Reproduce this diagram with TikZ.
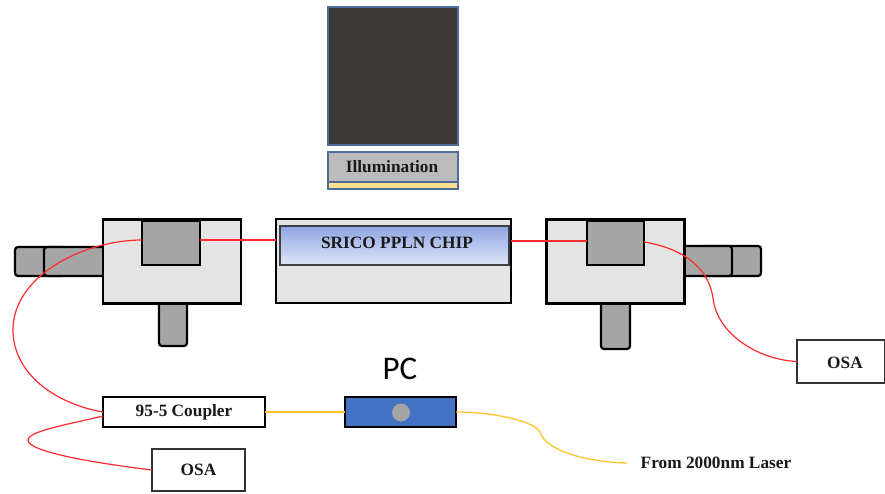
\documentclass[tikz,border=0pt]{standalone}
\usepackage{fontspec}
\setmainfont{Liberation Serif}
\newfontfamily\pcfont{Carlito}
\usetikzlibrary{calc}
\definecolor{stagegray}{HTML}{E4E4E4}
\definecolor{knobgray}{HTML}{A5A5A5}
\definecolor{darkbox}{HTML}{3B3A39}
\definecolor{framebl}{HTML}{4F6D9B}
\definecolor{illum}{HTML}{BBBBBB}
\definecolor{illumy}{HTML}{FFE08F}
\definecolor{pcblue}{HTML}{4472C4}
\definecolor{fibrered}{HTML}{FF2B2B}
\definecolor{fibreyel}{HTML}{FFC42E}
\definecolor{chiptop}{HTML}{8FA5E3}
\definecolor{chipbot}{HTML}{DFE5F8}
\tikzset{
  x=1pt,y=-1pt,
  every node/.style={inner sep=0pt,outer sep=0pt},
  box/.style={draw=black,line width=2.2pt,rectangle},
  stage/.style={box,fill=stagegray,minimum width=138pt,minimum height=84pt},
  holder/.style={box,fill=knobgray},
  knob/.style={draw=black,line width=2.2pt,fill=knobgray,rounded corners=3pt,rectangle},
  bluebox/.style={draw=framebl,line width=1.4pt,rectangle},
  instr/.style={draw=black!80,line width=1.8pt,fill=white,rectangle},
  lab/.style={font=\bfseries\fontsize{17.3}{19}\selectfont,text=black!90},
  redfibre/.style={draw=fibrered,line width=1.2pt},
  yelfibre/.style={draw=fibreyel,line width=1.3pt}
}
\begin{document}
\begin{tikzpicture}
\useasboundingbox (0,0) rectangle (885,493);
% illumination
\node[bluebox,fill=darkbox,minimum width=130pt,minimum height=138pt] (lamp) at (393,76) {};
\node[bluebox,fill=illumy,minimum width=130pt,minimum height=37pt] (illbase) at (393,170.5) {};
\node[bluebox,fill=illum,minimum width=130pt,minimum height=30pt] (ill) at (393,167) {};
\node[lab] (illlab) at (392,167) {Illumination};
% left stage knobs
\node[knob,minimum width=50pt,minimum height=29pt] (lk1) at (40,261.5) {};
\node[knob,minimum width=74pt,minimum height=29pt] (lk2) at (81,261.5) {};
\node[knob,minimum width=28pt,minimum height=50pt] (lk3) at (173,321) {};
% right stage knobs
\node[knob,minimum width=60pt,minimum height=30pt] (rk1) at (731,261) {};
\node[knob,minimum width=60pt,minimum height=30pt] (rk2) at (702,261) {};
\node[knob,minimum width=29pt,minimum height=53pt] (rk3) at (615.5,322.5) {};
% stages
\node[stage] (ls) at (172,261.5) {};
\node[holder,minimum width=58pt,minimum height=44pt] (lh) at (171,243) {};
\node[stage] (rs) at (615.5,261.5) {};
\node[holder,minimum width=57pt,minimum height=44pt] (rh) at (615.5,243) {};
% chip
\node[box,fill=stagegray,minimum width=235pt,minimum height=84pt] (chipbase) at (393.5,261) {};
\node[draw=black!75,line width=1.2pt,top color=chiptop,bottom color=chipbot,minimum width=229pt,minimum height=39pt,rectangle] (chip) at (394.5,245.5) {};
\node[lab] (chiplab) at (397,243) {SRICO PPLN CHIP};
% instruments
\node[instr,minimum width=88pt,minimum height=43pt] (osar) at (841,361.5) {};
\node[lab] (osarlab) at (845,363) {OSA};
\node[instr,line width=2.2pt,minimum width=162pt,minimum height=30pt,lab,draw=black] (coup) at (184,412) {95-5 Coupler};
\node[instr,minimum width=93pt,minimum height=42pt,lab] (osal) at (198.5,470) {OSA};
\node[box,fill=pcblue,minimum width=111pt,minimum height=30pt] (pc) at (400.5,412) {};
\node[circle,draw=black!35,line width=.8pt,fill=knobgray,minimum size=17pt] (pcdot) at (401,412.5) {};
\node[font=\pcfont\fontsize{33}{36}\selectfont] (pclab) at (400,369) {PC};
\node[lab] (laser) at (716,463) {From 2000nm Laser};
\coordinate (laserend) at (627,463);
% fibres
\draw[redfibre] ([yshift=3pt]lh.west) .. controls (85,240) and (13,275) .. (13,330)
  .. controls (13,374) and (56,404) .. (coup.west);
\draw[redfibre] ([yshift=-4pt]coup.west) .. controls (70,424) and (28,431) .. (28,440)
  .. controls (28,452) and (95,463) .. (osal.west);
\draw[redfibre] ([yshift=3pt]lh.east) -- ([yshift=3pt]lh.east -| chipbase.west);
\draw[redfibre] ([yshift=2pt]rh.west) -- ([yshift=2pt]rh.west -| chipbase.east);
\draw[redfibre] ([yshift=1pt]rh.east) .. controls (680,248) and (708,265) .. (713,298)
  .. controls (717,335) and (760,360) .. (osar.west);
\draw[yelfibre] (coup.east) -- (pc.west);
\draw[yelfibre] (pc.east) .. controls (490,412) and (533,420) .. (540,432)
  .. controls (545,450) and (585,462) .. (laserend);
\end{tikzpicture}
\end{document}
